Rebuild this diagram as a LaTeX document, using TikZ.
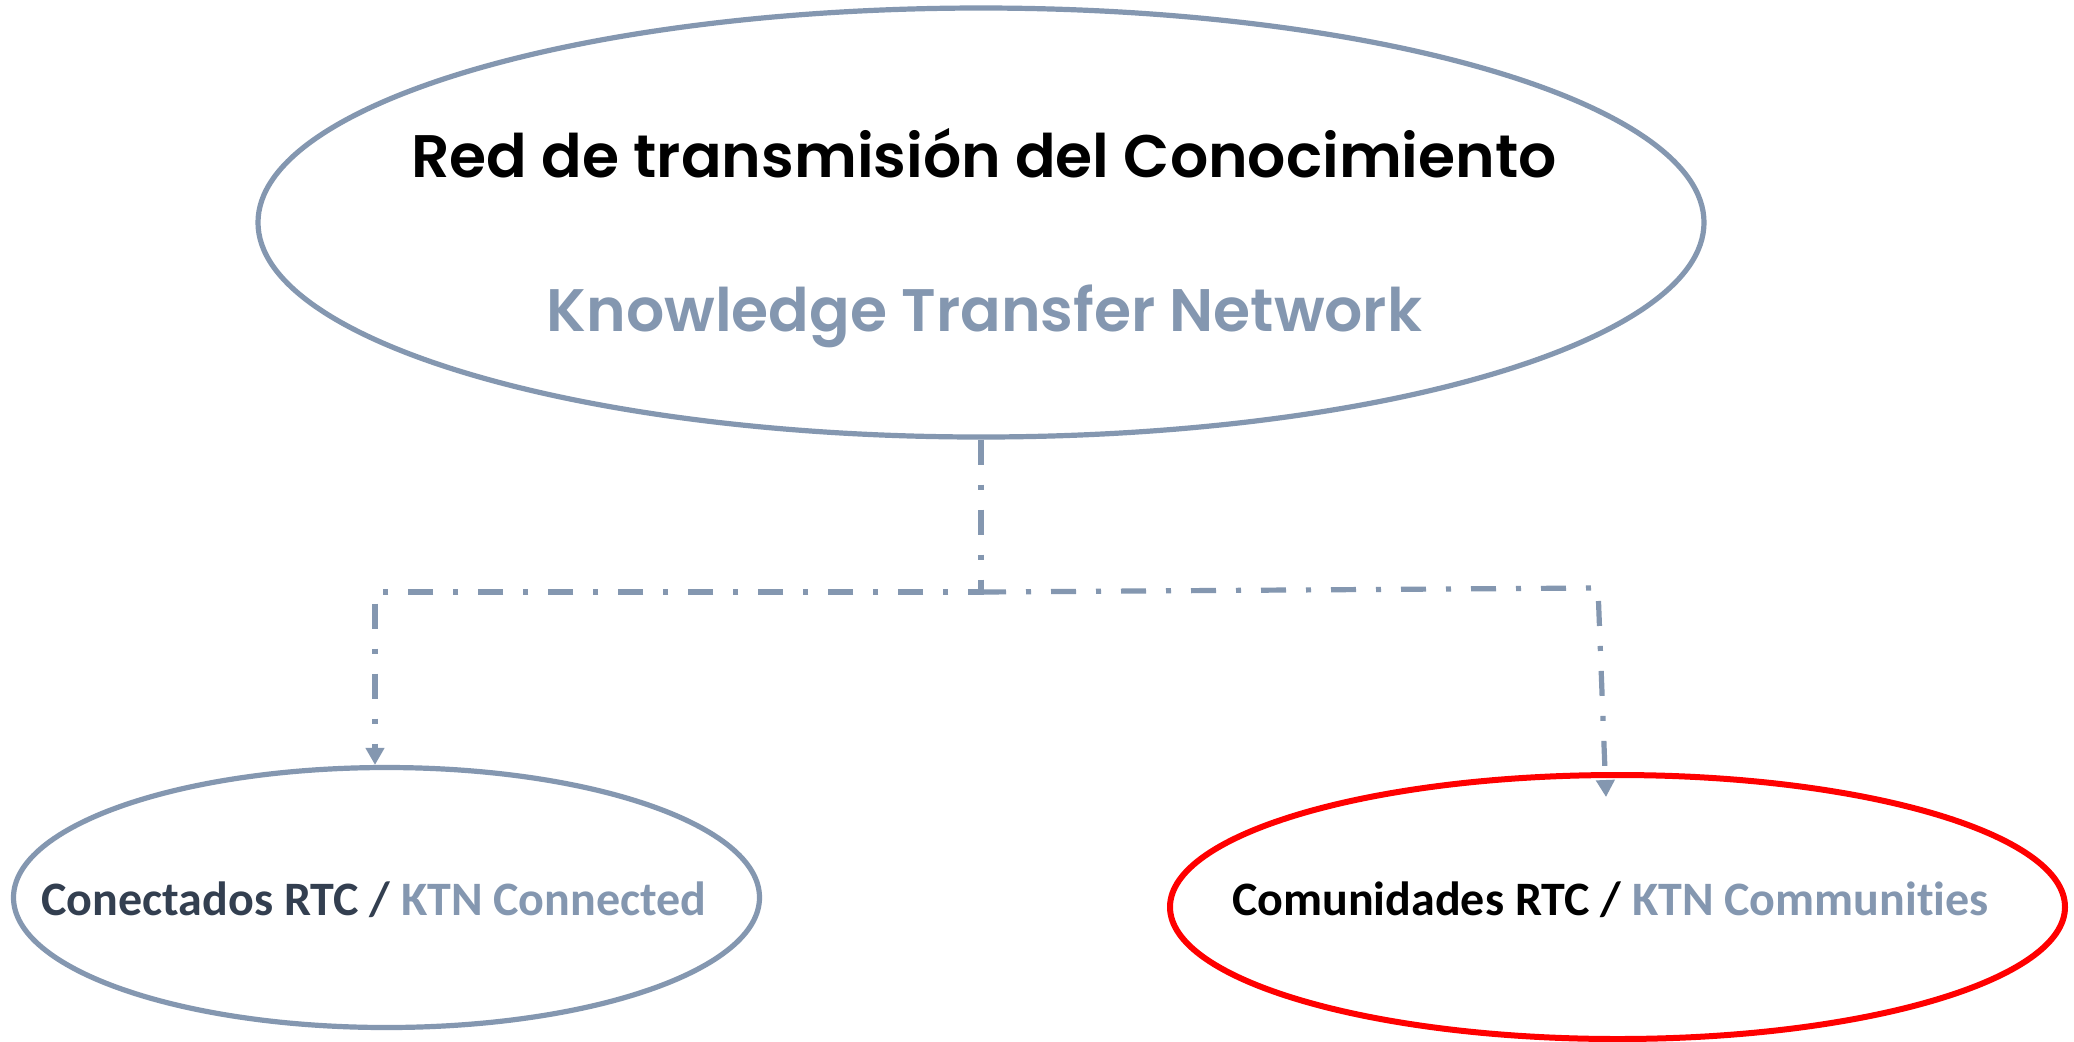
\documentclass[tikz,border=0pt]{standalone}
\usepackage{fontspec}
\setmainfont{Carlito}[Ligatures=NoCommon]
\newfontfamily\gothic{Poppins SemiBold}
\usetikzlibrary{shapes.geometric,arrows.meta}
\definecolor{ktn}{HTML}{8497B0}
\definecolor{darkslate}{HTML}{333F50}
\definecolor{redline}{HTML}{FF0000}
\tikzset{
  bigell/.style={ellipse, draw=ktn, line width=2.6pt, inner sep=0pt},
  redell/.style={ellipse, draw=redline, line width=3pt, inner sep=0pt},
  conn/.style={draw=ktn, line width=2.6pt, dash pattern=on 12.5pt off 10pt on 2.5pt off 10pt},
  tip/.style={-{Triangle[length=8.5pt,width=9pt]}},
  toptext/.style={anchor=base, inner sep=0pt, font=\gothic\fontsize{30}{36}\selectfont},
  subtext/.style={anchor=base, inner sep=0pt, font=\bfseries\fontsize{24}{29}\selectfont}
}
\begin{document}
\begin{tikzpicture}[x=0.5pt,y=-0.5pt]
\useasboundingbox[fill=white] (0,0) rectangle (2074,1041);
\node[bigell, minimum width=723pt, minimum height=214.5pt] (top) at (981,222.5) {};
\node[bigell, minimum width=373pt, minimum height=130pt] (left) at (386.5,897.5) {};
\node[redell, minimum width=447.5pt, minimum height=132pt] (right) at (1617.5,907) {};
\node[toptext, text=black] (t1) at (984,177) {Red de transmisión del Conocimiento};
\node[toptext, text=ktn] (t2) at (984.5,331) {Knowledge Transfer Network};
\node[subtext] (l1) at (374,915) {\textcolor{darkslate}{Conectados RTC /} \textcolor{ktn}{KTN Connected}};
\node[subtext] (r1) at (1610.5,915) {\textcolor{black}{Comunidades RTC /} \textcolor{ktn}{KTN Communities}};
\coordinate (jn) at (top.south |- 0,592);
\coordinate (lc) at (375,592);
\coordinate (rc) at (1598,588);
\coordinate (rt) at (1606,797);
\draw[conn, tip] (top.south) -- (jn) -- (lc) -- (lc |- left.north);
\draw[conn, tip] (jn) -- (rc) -- (rt);
\end{tikzpicture}
\end{document}
